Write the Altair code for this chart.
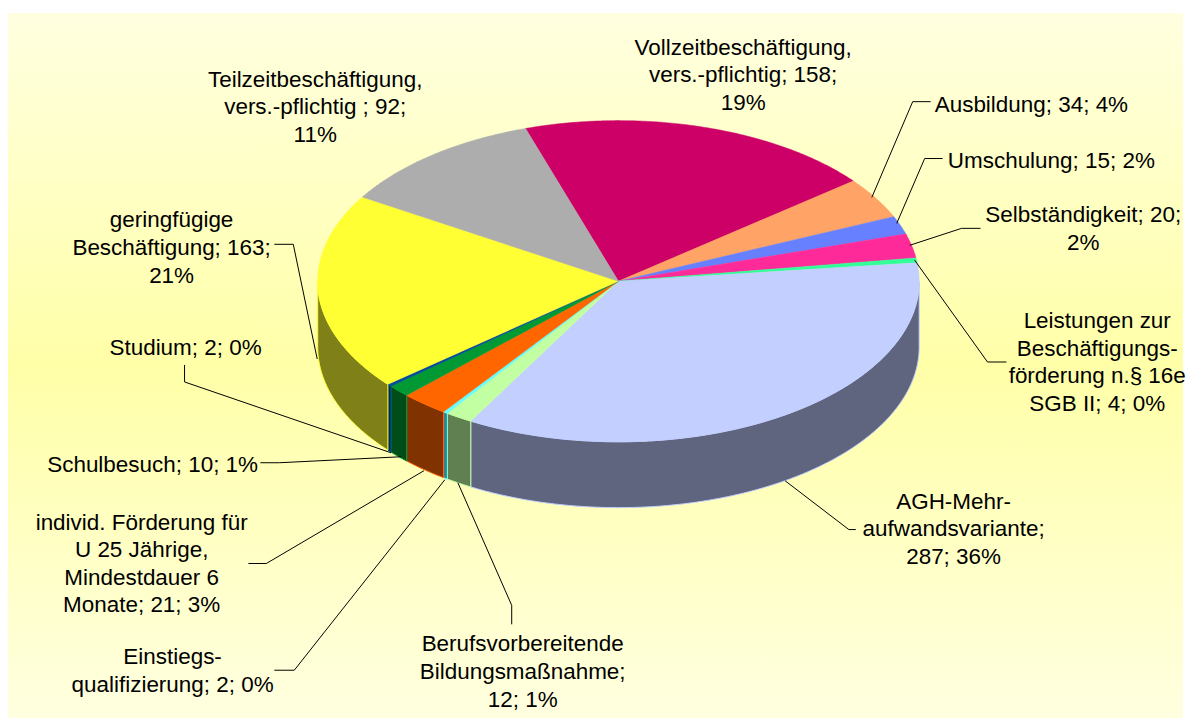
import math
import altair as alt

# ---- data ----
categories = ["Vollzeit", "Ausbildung", "Umschulung", "Selbstaendigkeit", "Leistungen", "AGH",
              "Berufsvorbereitung", "Einstieg", "Individ", "Schulbesuch", "Studium", "Geringfuegig", "Teilzeit"]
values = [158, 34, 15, 20, 4, 287, 12, 2, 21, 10, 2, 163, 92]
face_colors = ["#CC0066", "#FFA366", "#6680FF", "#FF2A99", "#33FF99", "#C2CFFF",
               "#C2FFA3", "#66FFFF", "#FF6600", "#009933", "#004C99", "#FFFF33", "#ADADAD"]
wall_colors = ["#660033", "#805233", "#334080", "#80154D", "#1A804D", "#60657F",
               "#618051", "#338080", "#803300", "#004D1A", "#00264D", "#808019", "#575757"]

label_lines = [
    ["Vollzeitbeschäftigung,", "vers.-pflichtig; 158;", "19%"],
    ["Ausbildung; 34; 4%"],
    ["Umschulung; 15; 2%"],
    ["Selbständigkeit; 20;", "2%"],
    ["Leistungen zur", "Beschäftigungs-", "förderung n.§ 16e", "SGB II; 4; 0%"],
    ["AGH-Mehr-", "aufwandsvariante;", "287; 36%"],
    ["Berufsvorbereitende", "Bildungsmaßnahme;", "12; 1%"],
    ["Einstiegs-", "qualifizierung; 2; 0%"],
    ["individ. Förderung für", "U 25 Jährige,", "Mindestdauer 6", "Monate; 21; 3%"],
    ["Schulbesuch; 10; 1%"],
    ["Studium; 2; 0%"],
    ["geringfügige", "Beschäftigung; 163;", "21%"],
    ["Teilzeitbeschäftigung,", "vers.-pflichtig ; 92;", "11%"],
]
# page pixel anchor of each label: horizontal centre, first-line centre
label_x = [745, 1034, 1054, 1086, 1100, 956, 524, 173, 142, 153, 186, 172, 316]
label_y = [47, 104, 161, 215, 321, 502, 645, 658, 523, 465, 348, 220, 79]
LINE_STEP = 27.7

# leader lines in page pixels
leaders = {
    "Ausbildung": [(874, 197), (915, 101), (933, 101)],
    "Umschulung": [(899, 223), (927, 158), (945, 158)],
    "Selbstaendigkeit": [(912, 245), (964, 228), (983, 228)],
    "Leistungen": [(917, 260), (990, 362), (1009, 362)],
    "AGH": [(787, 481), (851, 530), (858, 530)],
    "Berufsvorbereitung": [(459, 483), (513, 606), (513, 625)],
    "Einstieg": [(446, 480), (295, 671), (275, 671)],
    "Individ": [(425, 471), (267, 564), (249, 564)],
    "Schulbesuch": [(402, 457), (280, 463), (261, 463)],
    "Studium": [(392, 453), (185, 382), (185, 365)],
    "Geringfuegig": [(318, 359), (294, 244), (275, 244)],
}

# pie geometry on the page
CX, CY, RX, RY, DEPTH = 620.0, 281.0, 301.5, 161.0, 66.0
START = -18.0
OFF_X, OFF_Y = 8, 8
W, H = 1178, 711


def pt(angle, dy=0.0):
    a = math.radians(angle)
    return [CX + RX * math.sin(a) - OFF_X, CY - RY * math.cos(a) + dy - OFF_Y]


def arc(a0, a1, dy=0.0):
    n = max(2, int(abs(a1 - a0) / 0.5) + 1)
    return [pt(a0 + (a1 - a0) * i / (n - 1), dy) for i in range(n)]


def feature(ring, fill, stroke):
    return {"type": "Feature",
            "geometry": {"type": "Polygon", "coordinates": [ring + [ring[0]]]},
            "properties": {"fill": fill, "stroke": stroke}}


total = sum(values)
faces, walls = [], []
ang = START
for v, fc, wc in zip(values, face_colors, wall_colors):
    a1 = ang + v / total * 360.0
    faces.append(feature([[CX - OFF_X, CY - OFF_Y]] + arc(ang, a1), fc, fc))
    lo, hi = max(ang, 90.0), min(a1, 270.0)
    if hi > lo:
        walls.append(feature(arc(lo, hi) + arc(hi, lo, DEPTH), wc, fc))
    ang = a1

text_rows = []
for name, lines, lx, ly in zip(categories, label_lines, label_x, label_y):
    for i, line in enumerate(lines):
        text_rows.append({"name": name, "text": line, "x": lx - OFF_X,
                          "y": ly + i * LINE_STEP - OFF_Y})

leader_rows = []
for name, pts in leaders.items():
    for i, (x, y) in enumerate(pts):
        leader_rows.append({"name": name, "i": i, "x": x - OFF_X, "y": y - OFF_Y})

bg = alt.Chart(alt.Data(values=[{"a": 1}])).mark_rect(
    fill=alt.Gradient(gradient="linear", x1=0, y1=0, x2=0, y2=1,
                      stops=[alt.GradientStop(color="#FFFFE0", offset=0),
                             alt.GradientStop(color="#FFFFA8", offset=0.5),
                             alt.GradientStop(color="#FFFFE0", offset=1)])
).encode(x=alt.value(0), x2=alt.value(W), y=alt.value(4), y2=alt.value(H))


def geo(features, width):
    return alt.Chart(alt.Data(values=features)).mark_geoshape(strokeWidth=width).encode(
        fill=alt.Fill("properties.fill:N", scale=None),
        stroke=alt.Stroke("properties.stroke:N", scale=None),
    ).project(type="identity", scale=1, translate=[0, 0])


lines = alt.Chart(alt.Data(values=leader_rows)).mark_line(color="#000000", strokeWidth=1).encode(
    x=alt.X("x:Q", scale=None, axis=None),
    y=alt.Y("y:Q", scale=None, axis=None),
    detail="name:N",
    order="i:Q",
)

labels = alt.Chart(alt.Data(values=text_rows)).mark_text(
    font="Liberation Sans", fontSize=22.5, color="#000000", align="center", baseline="middle"
).encode(
    x=alt.X("x:Q", scale=None, axis=None),
    y=alt.Y("y:Q", scale=None, axis=None),
    text="text:N",
)

chart = alt.layer(bg, geo(walls, 1), geo(faces, 0.5), lines, labels).properties(
    width=W, height=H, padding=0, background="#FFFFFF"
).configure_view(stroke=None)

chart.save("out.html", embed_options={"renderer": "svg", "actions": False})
